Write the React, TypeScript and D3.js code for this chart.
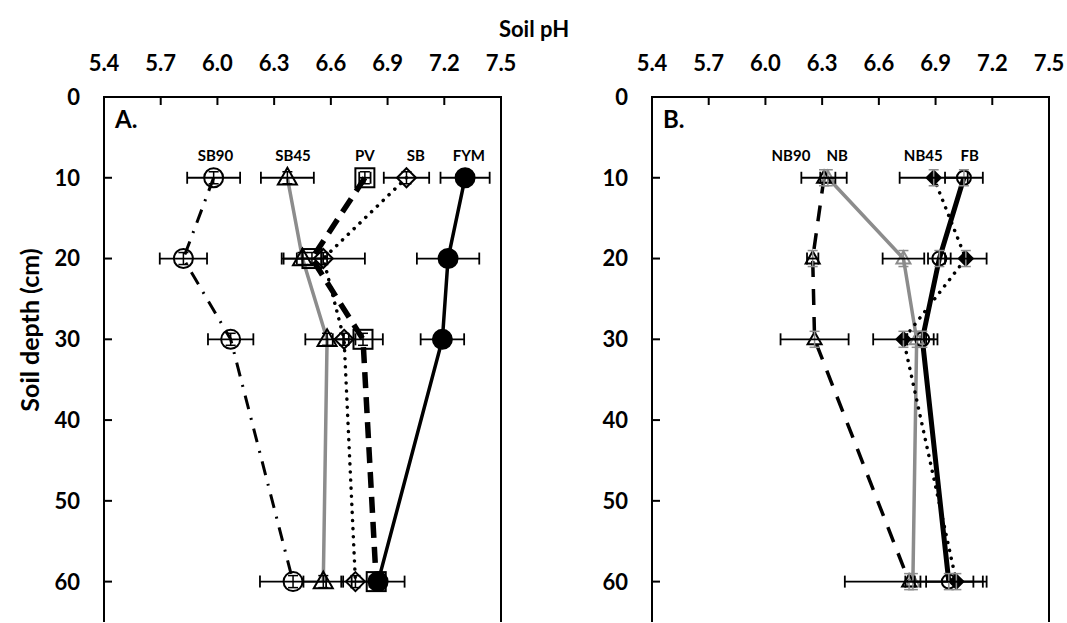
import React from "react";
import * as d3 from "d3";

const W = 1067;
const H = 623;

const depths = [10, 20, 30, 60];
const phTicks = [5.4, 5.7, 6.0, 6.3, 6.6, 6.9, 7.2, 7.5];
const depthTicks = [0, 10, 20, 30, 40, 50, 60];

// Panel A
const sb90 = [5.98, 5.82, 6.07, 6.4];
const sb90Err = [0.14, 0.125, 0.12, 0.175];
const sb45 = [6.37, 6.45, 6.58, 6.56];
const sb45Err = [0.14, 0.1, 0.115, 0.105];
const pv = [6.78, 6.5, 6.77, 6.84];
const pvErr = [0.03, 0.08, 0.105, 0.03];
const sb = [7.0, 6.56, 6.67, 6.73];
const sbErr = [0.12, 0.22, 0.06, 0.075];
const fym = [7.31, 7.22, 7.19, 6.85];
const fymErr = [0.13, 0.165, 0.115, 0.14];

// Panel B
const nb90 = [6.31, 6.25, 6.26, 6.76];
const nb90Err = [0.12, 0.03, 0.18, 0.34];
const nb = [6.33, 6.73, 6.8, 6.78];
const nbErr = [0.04, 0.11, 0.05, 0.04];
const nb45 = [6.89, 7.06, 6.73, 7.01];
const nb45Err = [0.18, 0.11, 0.16, 0.16];
const fb = [7.05, 6.92, 6.83, 6.97];
const fbErr = [0.1, 0.06, 0.08, 0.18];

const labelsA = ["SB90", "SB45", "PV", "SB", "FYM"];
const labelPhA = [5.99, 6.4, 6.78, 7.05, 7.33];
const labelsB = ["NB90", "NB", "NB45", "FB"];
const labelPhB = [6.135, 6.38, 6.835, 7.08];
const labelDepth = 7.3;

const GRAY = "#8c8c8c";
const FONT = "Lato, 'Open Sans', sans-serif";

type Series = {
  values: number[];
  err: number[];
  color: string;
  width: number;
  dash?: string;
  cap?: string;
  marker: string;
  fill: string;
  mcolor: string;
};

const seriesA: Series[] = [
  { values: sb90, err: sb90Err, color: "#000", width: 3, dash: "14,9,2,9", marker: "circle", fill: "none", mcolor: "#000" },
  { values: sb45, err: sb45Err, color: GRAY, width: 3.5, marker: "triangle", fill: "none", mcolor: "#000" },
  { values: pv, err: pvErr, color: "#000", width: 5.5, dash: "16,9", marker: "square", fill: "none", mcolor: "#000" },
  { values: sb, err: sbErr, color: "#000", width: 3.5, dash: "0.1,8", cap: "round", marker: "diamond", fill: "none", mcolor: "#000" },
  { values: fym, err: fymErr, color: "#000", width: 3.5, marker: "dot", fill: "#000", mcolor: "#000" },
];

const seriesB: Series[] = [
  { values: nb, err: nbErr, color: GRAY, width: 3.5, marker: "triangle", fill: "none", mcolor: GRAY },
  { values: nb90, err: nb90Err, color: "#000", width: 3.5, dash: "16,12", marker: "triangle", fill: "none", mcolor: "#000" },
  { values: nb45, err: nb45Err, color: "#000", width: 3.5, dash: "0.1,8", cap: "round", marker: "diamond", fill: "#000", mcolor: "#000" },
  { values: fb, err: fbErr, color: "#000", width: 5, marker: "circle", fill: "none", mcolor: "#000" },
];

const y = d3.scaleLinear().domain([0, 65]).range([97, 622]);

function Marker({ type, cx, cy, s, stroke, fill }: any) {
  const sw = 2;
  if (type === "circle" || type === "dot")
    return <circle cx={cx} cy={cy} r={s} fill={fill} stroke={stroke} strokeWidth={sw} />;
  if (type === "square")
    return <rect x={cx - s} y={cy - s} width={2 * s} height={2 * s} fill={fill} stroke={stroke} strokeWidth={sw} />;
  if (type === "diamond")
    return (
      <path d={`M${cx},${cy - s}L${cx + s},${cy}L${cx},${cy + s}L${cx - s},${cy}Z`} fill={fill} stroke={stroke} strokeWidth={sw} />
    );
  const h = s * 1.75;
  return (
    <path d={`M${cx},${cy - h * 0.6}L${cx + s},${cy + h * 0.4}L${cx - s},${cy + h * 0.4}Z`} fill={fill} stroke={stroke} strokeWidth={sw} />
  );
}

function Panel({ left, series, tag, labels, labelPh, big }: any) {
  const x = d3.scaleLinear().domain([5.4, 7.5]).range([left, left + 397]);
  const line = (vals: number[]) =>
    d3.line<number>().x((v) => x(v)).y((_, i) => y(depths[i]))(vals) as string;
  const ms = big ? 9.5 : 7;
  const vErr = big ? 6 : 8;
  const vCol = big ? "#000" : GRAY;
  return (
    <g>
      {/* frame */}
      <path
        d={`M${x(5.4)},${y(65)}V${y(0)}H${x(7.5)}V${y(65)}`}
        fill="none"
        stroke="#000"
        strokeWidth={2}
      />
      {phTicks.slice(1, -1).map((t) => (
        <line key={t} x1={x(t)} x2={x(t)} y1={y(0)} y2={y(0) + 8} stroke="#000" strokeWidth={2} />
      ))}
      {depthTicks.slice(1).map((t) => (
        <line key={t} x1={x(5.4)} x2={x(5.4) + 8} y1={y(t)} y2={y(t)} stroke="#000" strokeWidth={2} />
      ))}
      {phTicks.map((t) => (
        <text key={t} x={x(t)} y={71} textAnchor="middle" fontSize={22} fontWeight="bold" fontFamily={FONT}>
          {t.toFixed(1)}
        </text>
      ))}
      {depthTicks.map((t) => (
        <text key={t} x={x(5.4) - 24} y={y(t)} dy="0.36em" textAnchor="end" fontSize={22} fontWeight="bold" fontFamily={FONT}>
          {t}
        </text>
      ))}
      <text x={x(5.4) + 11} y={128} fontSize={24} fontWeight="bold" fontFamily={FONT}>
        {tag}
      </text>
      {labels.map((l: string, i: number) => (
        <text key={l} x={x(labelPh[i])} y={y(labelDepth)} dy="0.36em" textAnchor="middle" fontSize={15} fontWeight="bold" fontFamily={FONT}>
          {l}
        </text>
      ))}
      {series.map((s: Series, k: number) => (
        <path
          key={"l" + k}
          d={line(s.values)}
          fill="none"
          stroke={s.color}
          strokeWidth={s.width}
          strokeDasharray={s.dash}
          strokeLinecap={s.cap || "butt"}
        />
      ))}
      {series.map((s: Series, k: number) =>
        s.values.map((v, i) => (
          <Marker key={"m" + k + i} type={s.marker} cx={x(v)} cy={y(depths[i])} s={ms} stroke={s.mcolor} fill={s.fill} />
        ))
      )}
      {series.map((s: Series, k: number) =>
        s.values.map((v, i) => {
          const cy = y(depths[i]);
          const x0 = x(v - s.err[i]);
          const x1 = x(v + s.err[i]);
          const cx = x(v);
          return (
            <g key={"e" + k + i}>
              <line x1={cx} x2={cx} y1={cy - vErr} y2={cy + vErr} stroke={vCol} strokeWidth={1.5} />
              <line x1={cx - 5} x2={cx + 5} y1={cy - vErr} y2={cy - vErr} stroke={vCol} strokeWidth={1.5} />
              <line x1={cx - 5} x2={cx + 5} y1={cy + vErr} y2={cy + vErr} stroke={vCol} strokeWidth={1.5} />
              <line x1={x0} x2={x1} y1={cy} y2={cy} stroke="#000" strokeWidth={1.8} />
              <line x1={x0} x2={x0} y1={cy - 6} y2={cy + 6} stroke="#000" strokeWidth={1.8} />
              <line x1={x1} x2={x1} y1={cy - 6} y2={cy + 6} stroke="#000" strokeWidth={1.8} />
            </g>
          );
        })
      )}
    </g>
  );
}

export default function App() {
  return (
    <svg
      width={W}
      height={H}
      style={{ position: "absolute", left: 0, top: 0, background: "#fff" }}
    >
      <rect width={W} height={H} fill="#fff" />
      <text x={534} y={37} textAnchor="middle" fontSize={22} fontWeight="bold" fontFamily={FONT}>
        Soil pH
      </text>
      <text
        transform="translate(30,330) rotate(-90)"
        dy="0.36em"
        textAnchor="middle"
        fontSize={25}
        fontWeight="bold"
        fontFamily={FONT}
      >
        Soil depth (cm)
      </text>
      <Panel left={104} series={seriesA} tag="A." labels={labelsA} labelPh={labelPhA} big />
      <Panel left={652} series={seriesB} tag="B." labels={labelsB} labelPh={labelPhB} />
    </svg>
  );
}
